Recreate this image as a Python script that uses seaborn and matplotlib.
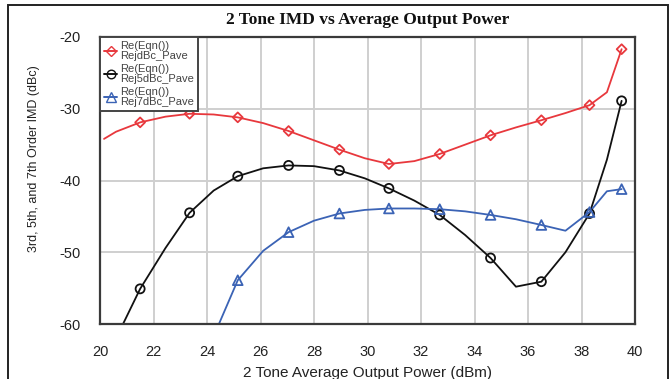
import numpy as np
import pandas as pd
import matplotlib
matplotlib.use("Agg")
import matplotlib.pyplot as plt
from matplotlib.lines import Line2D
from matplotlib.patches import Rectangle
import seaborn as sns

# ---- data ----
pout = [20.15, 20.6, 21.5, 22.45, 23.35, 24.25, 25.15, 26.1, 27.05, 28.0, 28.95,
        29.9, 30.8, 31.75, 32.7, 33.65, 34.6, 35.55, 36.5, 37.4, 38.3, 38.95, 39.5]

rej3 = [-34.2, -33.2, -31.9, -31.1, -30.7, -30.8, -31.2, -32.0, -33.1, -34.4, -35.7,
        -36.9, -37.7, -37.3, -36.3, -35.0, -33.7, -32.6, -31.6, -30.6, -29.5, -27.7, -21.7]

rej5 = [-65.0, -62.0, -55.1, -49.4, -44.5, -41.4, -39.4, -38.3, -37.9, -38.0, -38.6,
        -39.7, -41.1, -42.8, -44.8, -47.6, -50.8, -54.8, -54.1, -50.0, -44.6, -37.1, -28.9]

rej7 = [None, None, None, None, None, -61.7, -53.9, -49.8, -47.2, -45.6, -44.6,
        -44.1, -43.9, -43.9, -44.0, -44.3, -44.8, -45.4, -46.2, -47.0, -44.4, -41.5, -41.2]

marker_idx = [2, 4, 6, 8, 10, 12, 14, 16, 18, 20, 22]

labels = ["Re(Eqn())\nRejdBc_Pave", "Re(Eqn())\nRej5dBc_Pave", "Re(Eqn())\nRej7dBc_Pave"]
colors = ["#e8383d", "#111111", "#3b63b5"]
markers = ["D", "o", "^"]
msizes = [5, 6.5, 7]

title = "2 Tone IMD vs Average Output Power"
xlabel = "2 Tone Average Output Power (dBm)"
ylabel = "3rd, 5th, and 7th Order IMD (dBc)"
xticks = [20, 22, 24, 26, 28, 30, 32, 34, 36, 38, 40]
yticks = [-60, -50, -40, -30, -20]

# ---- plotting ----
sns.set_theme(style="white")
plt.rcParams["font.family"] = ["Liberation Sans", "DejaVu Sans"]
plt.rcParams["axes.unicode_minus"] = False

fig = plt.figure(figsize=(6.72, 3.79), dpi=100)
ax = fig.add_axes([100 / 672, 1 - 324 / 379, 535 / 672, 287 / 379])

series = [rej3, rej5, rej7]
for vals, lab, c, m, ms in zip(series, labels, colors, markers, msizes):
    df = pd.DataFrame({"x": pout, "y": vals}).dropna()
    sns.lineplot(data=df, x="x", y="y", ax=ax, color=c, lw=1.3, sort=False,
                 estimator=None, legend=False)
    dm = df.loc[[i for i in marker_idx if i in df.index]]
    sns.scatterplot(data=dm, x="x", y="y", ax=ax, marker=m, s=ms ** 2,
                    facecolor="none", edgecolor=c, linewidth=1.3, legend=False,
                    zorder=5)

ax.set_xlim(20, 40)
ax.set_ylim(-60, -20)
ax.set_xticks(xticks)
ax.set_yticks(yticks)
ax.grid(True, color="#cfcfcf", lw=1.4)
ax.set_axisbelow(True)
for sp in ax.spines.values():
    sp.set_color("#3a3a3a")
    sp.set_linewidth(1.6)
ax.tick_params(axis="both", length=0, labelsize=10.5, colors="#222222")
ax.tick_params(axis="x", pad=15)
ax.tick_params(axis="y", pad=14)

ax.set_xlabel(xlabel, fontsize=11, color="#222222")
ax.xaxis.set_label_coords(0.5, -0.145)
ax.set_ylabel(ylabel, fontsize=9, color="#222222")
ax.yaxis.set_label_coords(-0.112, 0.575)

ax.set_title(title, fontsize=12.5, fontweight="bold", family="Liberation Serif",
             pad=9, color="#111111")

handles = [Line2D([0], [0], color=c, marker=m, markersize=ms * 0.95, mfc="none",
                  mec=c, lw=1.4)
           for c, m, ms in zip(colors, markers, msizes)]
leg = ax.legend(handles, labels, loc="upper left", bbox_to_anchor=(0, 1),
                borderaxespad=0, fontsize=8, handlelength=1.1,
                handletextpad=0.3, labelspacing=0.3, borderpad=0.4,
                frameon=True, fancybox=False, framealpha=1)
leg.get_frame().set_edgecolor("#444444")
leg.get_frame().set_linewidth(1.4)
for t in leg.get_texts():
    t.set_linespacing(0.95)
    t.set_color("#444444")

fig.patches.append(Rectangle((8 / 672, -0.02), 660 / 672, 1.02 - 5 / 379,
                             transform=fig.transFigure, fill=False,
                             edgecolor="#222222", lw=1.4))

fig.savefig("out.png", dpi=100)
